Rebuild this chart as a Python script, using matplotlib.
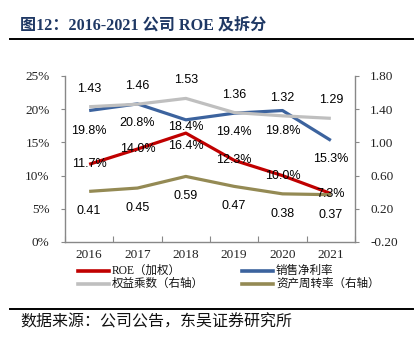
import matplotlib.pyplot as plt
from matplotlib.lines import Line2D
from matplotlib.ticker import FuncFormatter, MultipleLocator, FixedLocator

# 데이터
years = ['2016', '2017', '2018', '2019', '2020', '2021']
roe = [11.7, 14.0, 16.4, 12.3, 10.0, 7.3]
net_margin = [19.8, 20.8, 18.4, 19.4, 19.8, 15.3]
equity_mult = [1.43, 1.46, 1.53, 1.36, 1.32, 1.29]
asset_turn = [0.41, 0.45, 0.59, 0.47, 0.38, 0.37]

series_names = ['ROE（加权）', '销售净利率', '权益乘数（右轴）', '资产周转率（右轴）']
colors = ['#C00000', '#3C639E', '#BFBFBF', '#948A54']

serif_cjk = ['Liberation Serif', 'Noto Sans CJK SC']
W, H = 419, 338

fig = plt.figure(figsize=(W / 100, H / 100), dpi=100)
ax = fig.add_axes([65 / W, 1 - 242 / H, 290 / W, 166 / H])
ax2 = ax.twinx()

x = list(range(len(years)))
ax.plot(x, roe, color=colors[0], lw=2.3, solid_capstyle='butt')
ax.plot(x, net_margin, color=colors[1], lw=2.3, solid_capstyle='butt')
ax2.plot(x, equity_mult, color=colors[2], lw=2.3, solid_capstyle='butt')
ax2.plot(x, asset_turn, color=colors[3], lw=2.3, solid_capstyle='butt')

ax.set_xlim(-0.5, len(years) - 0.5)
ax.set_ylim(0, 25)
ax2.set_ylim(-0.2, 1.8)
ax.yaxis.set_major_locator(MultipleLocator(5))
ax.yaxis.set_major_formatter(FuncFormatter(lambda v, p: f'{v:.0f}%'))
ax2.yaxis.set_major_locator(FixedLocator([-0.2, 0.2, 0.6, 1.0, 1.4, 1.8]))
ax2.yaxis.set_major_formatter(FuncFormatter(lambda v, p: f'{v:.2f}'))

# x축: 카테고리 경계에 안쪽 눈금
ax.set_xticks([i - 0.5 for i in range(len(years) + 1)])
ax.set_xticklabels([])
ax.set_xticks(x, minor=True)
ax.set_xticklabels(years, minor=True)
ax.tick_params(axis='x', which='major', direction='in', length=4, color='#888888')
ax.tick_params(axis='x', which='minor', length=0, pad=5)
ax.tick_params(axis='y', direction='out', length=3, color='#888888', pad=8)
ax2.tick_params(axis='y', direction='out', length=3, color='#888888', pad=8)

for lab in ax.get_xticklabels(minor=True) + ax.get_yticklabels() + ax2.get_yticklabels():
    lab.set_fontfamily('Liberation Serif')
    lab.set_fontsize(9.5)
    lab.set_color('#222222')

for a in (ax, ax2):
    a.spines['top'].set_visible(False)
    for s in ('left', 'right', 'bottom'):
        a.spines[s].set_color('#888888')
        a.spines[s].set_linewidth(1.0)
ax.spines['right'].set_visible(False)
ax2.spines['left'].set_visible(False)
ax2.spines['bottom'].set_visible(False)

# 데이터 레이블 (포인트 기준 픽셀 오프셋)
lab_kw = dict(textcoords='offset pixels', ha='center', va='center',
              fontsize=9, family='Liberation Sans', color='black', zorder=10)
roe_off = [0, 0, -13, 0, 0, 0]
nm_off = [-20, -19, -7, -19, -20, -19]
for i in x:
    ax2.annotate(f'{roe[i]:.1f}%', (i, roe[i]), xycoords=ax.transData,
                 xytext=(0, roe_off[i]), **lab_kw)
    ax2.annotate(f'{net_margin[i]:.1f}%', (i, net_margin[i]), xycoords=ax.transData,
                 xytext=(0, nm_off[i]), **lab_kw)
    ax2.annotate(f'{equity_mult[i]:.2f}', (i, equity_mult[i]),
                 xytext=(0, 18), **lab_kw)
    ax2.annotate(f'{asset_turn[i]:.2f}', (i, asset_turn[i]),
                 xytext=(0, -20), **lab_kw)

# 범례 (수동 배치)
leg_pos = [(78, 271), (242, 271), (78, 284), (242, 284)]
for name, c, (lx, ly) in zip(series_names, colors, leg_pos):
    fig.add_artist(Line2D([lx / W, (lx + 31) / W], [1 - ly / H, 1 - ly / H],
                          color=c, lw=2.6, transform=fig.transFigure))
    fig.text((lx + 34) / W, 1 - ly / H, name, family=serif_cjk, fontsize=8.3,
             va='center', ha='left', color='#111111')

# 제목 / 출처
fig.text(20 / W, 1 - 25 / H, '图12：2016-2021 公司 ROE 及拆分', family=serif_cjk,
         fontsize=11.6, fontweight='bold', color='#1F3864', va='center', ha='left')
fig.add_artist(Line2D([10 / W, 413 / W], [1 - 39 / H, 1 - 39 / H], color='black',
                      lw=1.4, transform=fig.transFigure))
fig.add_artist(Line2D([10 / W, 413 / W], [1 - 309 / H, 1 - 309 / H], color='black',
                      lw=1.4, transform=fig.transFigure))
fig.text(20 / W, 1 - 322 / H, '数据来源：公司公告，东吴证券研究所', family=serif_cjk,
         fontsize=11.5, color='#111111', va='center', ha='left')

fig.savefig('out.png', dpi=100)
